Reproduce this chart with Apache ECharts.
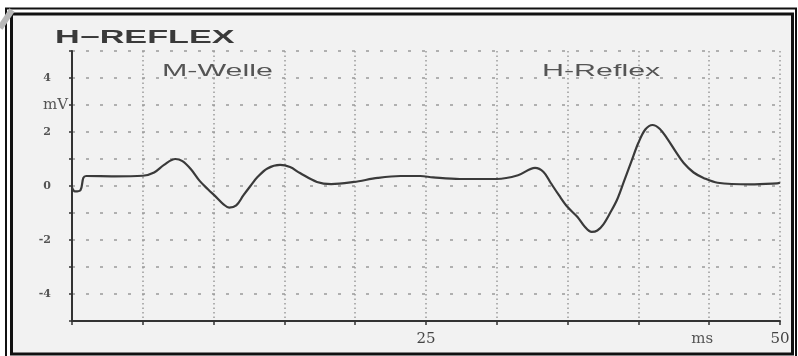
<!DOCTYPE html>
<html>
<head>
<meta charset="utf-8">
<script src="https://cdn.jsdelivr.net/npm/echarts@6/dist/echarts.min.js"></script>
<style>
  html, body { margin: 0; padding: 0; background: #ffffff; }
  #chart { width: 798px; height: 356px; }
</style>
</head>
<body>
<div id="chart"></div>
<script>
// ---- data ----
const times = [0, 0.2, 0.6, 0.8, 1.0, 3, 5, 5.8, 6.5, 7.3, 7.8, 8.4, 9.0, 9.6, 10.2, 10.7, 11.1, 11.6, 12.1, 12.6, 13.1, 13.8, 14.7, 15.4, 16.1, 17.3, 18.3, 19.9, 21.6, 23.2, 24.6, 25.5, 27.4, 30, 31.5, 32.7, 33.3, 33.8, 34.4, 35, 35.7, 36.2, 36.7, 37.1, 37.5, 38.0, 38.5, 39.0, 39.5, 40.0, 40.5, 41.0, 41.5, 42.0, 42.6, 43.2, 43.9, 44.6, 45.6, 47.9, 49.8, 50];
const volts = [-0.05, -0.2, -0.15, 0.3, 0.37, 0.36, 0.38, 0.5, 0.78, 1.0, 0.92, 0.62, 0.2, -0.12, -0.42, -0.68, -0.8, -0.72, -0.35, 0.0, 0.33, 0.65, 0.78, 0.7, 0.48, 0.15, 0.07, 0.15, 0.3, 0.37, 0.37, 0.32, 0.26, 0.26, 0.4, 0.67, 0.52, 0.12, -0.35, -0.78, -1.15, -1.5, -1.7, -1.65, -1.44, -1.0, -0.5, 0.2, 0.9, 1.6, 2.1, 2.26, 2.12, 1.78, 1.3, 0.85, 0.5, 0.3, 0.12, 0.06, 0.1, 0.12];
const yLabelValues = [4, 3, 2, 0, -2, -4];
const yLabelTexts = ['4', 'mV', '2', '0', '-2', '-4'];
const xLabelValues = [25, 45, 50];
const xLabelTexts = ['25', 'ms', '50'];
const titleText = 'H\u2212REFLEX';
const annotationTexts = ['M-Welle', 'H-Reflex'];

const seriesData = times.map((t, i) => [t, volts[i]]);

const chart = echarts.init(document.getElementById('chart'), null, { renderer: 'canvas' });

function yFmt(v) {
  const i = yLabelValues.indexOf(v);
  if (i < 0) return '';
  const s = yLabelTexts[i];
  return /\d/.test(s) ? '{n|' + s + '}' : '{u|' + s + '}';
}
function xFmt(v) {
  const i = xLabelValues.indexOf(v);
  if (i < 0) return '';
  const s = xLabelTexts[i];
  return /\d/.test(s) ? '{n|' + s + '}' : '{u|' + s + '}';
}

const option = {
  backgroundColor: '#ffffff',
  animation: false,
  grid: { left: 72, right: 18, top: 51, bottom: 35, containLabel: false },
  xAxis: {
    type: 'value', min: 0, max: 50, interval: 5,
    axisLine: { show: true, onZero: false, lineStyle: { color: '#333', width: 2 } },
    axisTick: { show: true, length: 4, lineStyle: { color: '#333', width: 1.5 } },
    splitLine: { show: true, lineStyle: { color: '#9a9a9a', width: 1.5, type: [1.5, 3] } },
    axisLabel: {
      margin: 11, formatter: xFmt, showMinLabel: true, showMaxLabel: true,
      rich: {
        n: { fontFamily: 'DejaVu Serif', fontSize: 15, color: '#444' },
        u: { fontFamily: 'DejaVu Serif', fontSize: 15, color: '#555', padding: [0, 14, 0, 0] }
      }
    }
  },
  yAxis: {
    type: 'value', min: -5, max: 5, interval: 1,
    axisLine: { show: true, onZero: false, lineStyle: { color: '#333', width: 2 } },
    axisTick: { show: true, length: 3, lineStyle: { color: '#333', width: 1.5 } },
    splitLine: { show: true, lineStyle: { color: '#9a9a9a', width: 1.5, type: [3, 11] } },
    axisLabel: {
      margin: 4, formatter: yFmt,
      rich: {
        n: { fontFamily: 'DejaVu Serif', fontSize: 11, fontWeight: 'bold', color: '#555', padding: [0, 17, 0, 0] },
        u: { fontFamily: 'DejaVu Serif', fontSize: 15, color: '#555' }
      }
    }
  },
  graphic: [
    { type: 'rect', z: -10, shape: { x: 11, y: 14, width: 782, height: 340 }, style: { fill: '#f2f2f2' } },
    { type: 'rect', z: 10, shape: { x: 6, y: 8.5, width: 790, height: 352 }, style: { fill: null, stroke: '#111', lineWidth: 2 } },
    { type: 'rect', z: 10, shape: { x: 11.5, y: 14, width: 781, height: 340 }, style: { fill: null, stroke: '#111', lineWidth: 3 } },
    { type: 'line', z: 10, shape: { x1: 0, y1: 28, x2: 12, y2: 10 }, style: { stroke: '#b8b8b8', lineWidth: 6 } },
    { type: 'text', z: 10, x: 55, y: 29, scaleX: 1.9, style: { text: titleText, font: 'bold 18px "Liberation Sans"', fill: '#3a3a3a', verticalAlign: 'top' } },
    { type: 'text', z: 10, x: 162, y: 64, scaleX: 1.9, style: { text: annotationTexts[0], font: '16px "Liberation Sans"', fill: '#555', verticalAlign: 'top' } },
    { type: 'text', z: 10, x: 542, y: 64, scaleX: 1.9, style: { text: annotationTexts[1], font: '16px "Liberation Sans"', fill: '#555', verticalAlign: 'top' } }
  ],
  series: [{
    type: 'line',
    data: seriesData,
    showSymbol: false,
    smooth: 0.35,
    lineStyle: { color: '#3a3a3a', width: 2.2 }
  }]
};
chart.setOption(option);
</script>
</body>
</html>
